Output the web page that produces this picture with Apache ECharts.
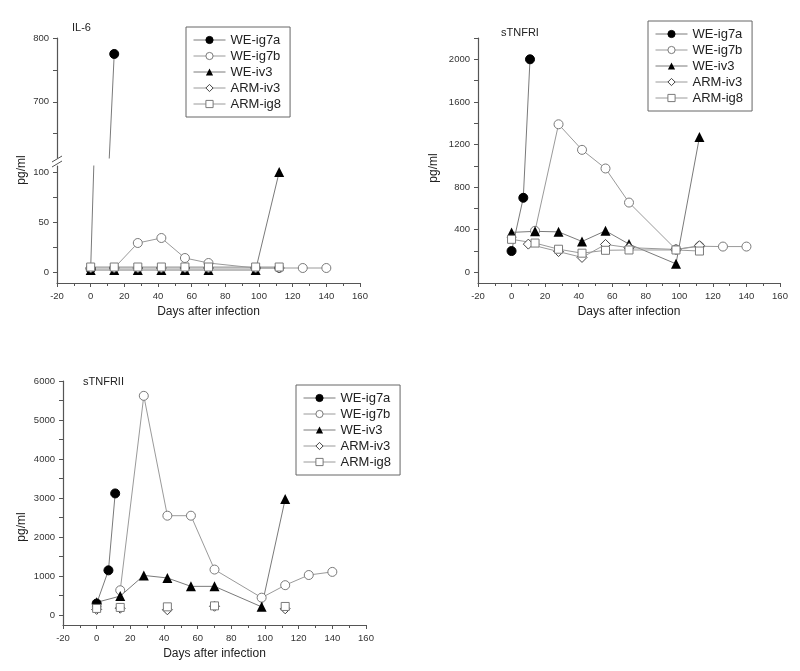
<!DOCTYPE html>
<html>
<head>
<meta charset="utf-8">
<script src="https://cdn.jsdelivr.net/npm/echarts@6/dist/echarts.min.js"></script>
<style>html,body{margin:0;padding:0;background:#fff}#c{width:800px;height:671px}</style>
</head>
<body>
<div id="c"></div>
<script>
// ---------- DATA ----------
const seriesNames = ['WE-ig7a', 'WE-ig7b', 'WE-iv3', 'ARM-iv3', 'ARM-ig8'];
const panelTitles = ['IL-6', 'sTNFRI', 'sTNFRII'];
const xTitle = 'Days after infection';
const yTitle = 'pg/ml';

// IL-6 (broken y axis)
const il6_WEig7a = [[0, 3], [14, 775]];
const il6_WEig7b = [[14, 4], [28, 29], [42, 34], [56, 14], [70, 9], [98, 4], [112, 4], [126, 4], [140, 4]];
const il6_WEiv3  = [[0, 2], [14, 2], [28, 2], [42, 2], [56, 2], [70, 2], [98, 2], [112, 100]];
const il6_ARMiv3 = [[0, 4], [14, 4], [28, 4], [42, 4], [56, 4], [70, 4], [98, 4], [112, 4]];
const il6_ARMig8 = [[0, 5], [14, 5], [28, 5], [42, 5], [56, 5], [70, 5], [98, 5], [112, 5]];

// sTNFRI
const r1_WEig7a = [[0, 200], [7, 700], [11, 2000]];
const r1_WEig7b = [[14, 390], [28, 1390], [42, 1150], [56, 975], [70, 655], [98, 215], [112, 245], [126, 242], [140, 242]];
const r1_WEiv3  = [[0, 375], [14, 385], [28, 380], [42, 290], [56, 390], [70, 265], [98, 80], [112, 1270]];
const r1_ARMiv3 = [[10, 265], [28, 195], [42, 140], [56, 262], [70, 232], [98, 215], [112, 250]];
const r1_ARMig8 = [[0, 310], [14, 275], [28, 217], [42, 180], [56, 207], [70, 210], [98, 210], [112, 200]];

// sTNFRII
const r2_WEig7a = [[0, 300], [7, 1150], [11, 3120]];
const r2_WEig7b = [[14, 640], [28, 5620], [42, 2550], [56, 2550], [70, 1170], [98, 450], [112, 770], [126, 1030], [140, 1110]];
const r2_WEiv3  = [[0, 330], [14, 490], [28, 1020], [42, 955], [56, 740], [70, 740], [98, 215], [112, 2975]];
const r2_ARMiv3 = [[0, 150], [14, 180], [42, 140], [70, 230], [112, 165]];
const r2_ARMig8 = [[0, 175], [14, 200], [42, 215], [70, 240], [112, 225]];

// axis ticks / labels
const xMin = -20, xMax = 160, xStep = 20;
const il6UpperLabels = [700, 800], il6UpperTicks = [650, 700, 750, 800];
const il6LowerLabels = [0, 50, 100], il6LowerTicks = [0, 25, 50, 75, 100];
const r1Labels = [0, 400, 800, 1200, 1600, 2000], r1Ticks = [0, 200, 400, 600, 800, 1000, 1200, 1400, 1600, 1800, 2000, 2200];
const r2Labels = [0, 1000, 2000, 3000, 4000, 5000, 6000], r2Ticks = [0, 500, 1000, 1500, 2000, 2500, 3000, 3500, 4000, 4500, 5000, 5500, 6000];

// ---------- STYLE ----------
const FONT = '"Liberation Sans", Arial, Helvetica, sans-serif';
const AX = '#555';
const styles = {
  'WE-ig7a': {symbol: 'circle', symbolSize: 9, itemStyle: {color: '#000', borderColor: '#000', borderWidth: 1}, lineStyle: {color: '#7a7a7a', width: 1}},
  'WE-ig7b': {symbol: 'circle', symbolSize: 9, itemStyle: {color: '#fff', borderColor: '#7a7a7a', borderWidth: 1}, lineStyle: {color: '#9a9a9a', width: 1}},
  'WE-iv3':  {symbol: 'triangle', symbolSize: 10, itemStyle: {color: '#000', borderColor: '#000', borderWidth: 0}, lineStyle: {color: '#7a7a7a', width: 1}},
  'ARM-iv3': {symbol: 'diamond', symbolSize: 10, itemStyle: {color: '#fff', borderColor: '#444', borderWidth: 1}, lineStyle: {color: '#9a9a9a', width: 1}},
  'ARM-ig8': {symbol: 'rect', symbolSize: 8, itemStyle: {color: '#fff', borderColor: '#7a7a7a', borderWidth: 1}, lineStyle: {color: '#9a9a9a', width: 1}}
};

function mkSeries(name, data, axisIdx, noLine) {
  const s = styles[name];
  return {
    type: 'line', name: name, data: data,
    xAxisIndex: axisIdx, yAxisIndex: axisIdx,
    symbol: s.symbol, symbolSize: s.symbolSize, showSymbol: true,
    itemStyle: s.itemStyle,
    lineStyle: noLine ? Object.assign({}, s.lineStyle, {width: 0, opacity: 0}) : s.lineStyle,
    clip: true, silent: true, animation: false,
    emphasis: {disabled: true}
  };
}

const plainNum = function (v) { return String(v); };

function xAx(gi, show, withName) {
  return {
    type: 'value', gridIndex: gi, min: xMin, max: xMax, interval: xStep, show: show,
    name: withName ? xTitle : '', nameLocation: 'middle', nameGap: 23,
    nameTextStyle: {fontSize: 12, color: '#222', fontFamily: FONT},
    axisLine: {show: true, onZero: false, lineStyle: {color: AX, width: 1.2}},
    axisTick: {show: true, length: 4, lineStyle: {color: AX}},
    minorTick: {show: true, splitNumber: 2, length: 3, lineStyle: {color: AX}},
    axisLabel: {fontSize: 9.5, color: '#333', margin: 8, fontFamily: FONT, showMinLabel: true, showMaxLabel: true, formatter: plainNum},
    splitLine: {show: false}, minorSplitLine: {show: false}
  };
}
function yAx(gi, min, max, labels, ticks) {
  return {
    type: 'value', gridIndex: gi, min: min, max: max,
    axisLine: {show: true, onZero: false, lineStyle: {color: AX, width: 1.2}},
    axisTick: {show: true, length: 4, customValues: ticks, lineStyle: {color: AX}},
    axisLabel: {fontSize: 9.5, color: '#333', margin: 8, fontFamily: FONT, customValues: labels, formatter: plainNum},
    splitLine: {show: false}
  };
}

function mkLegend(left, top) {
  return {
    orient: 'vertical', left: left, top: top,
    data: seriesNames.map(function (n) {
      return {name: n, lineStyle: {color: styles[n].lineStyle.color, width: 1, opacity: 1},
              itemStyle: Object.assign({}, styles[n].itemStyle, {borderWidth: styles[n].itemStyle.borderWidth ? 1 : 0})};
    }),
    itemWidth: 32, itemHeight: 9, itemGap: 3,
    padding: [6.5, 9, 6.5, 7],
    borderColor: '#666', borderWidth: 1, backgroundColor: '#fff',
    selectedMode: false,
    textStyle: {fontSize: 13, color: '#222', fontFamily: FONT, lineHeight: 13}
  };
}

function yName(x, y) {
  return {
    type: 'text', x: x, y: y, rotation: Math.PI / 2, silent: true,
    style: {text: yTitle, fontSize: 12, fontFamily: FONT, fill: '#222', align: 'center', verticalAlign: 'middle'}
  };
}

const series = [
  // IL-6 lower (axis 1)
  mkSeries('WE-ig7a', il6_WEig7a, 1),
  mkSeries('WE-ig7b', il6_WEig7b, 1),
  mkSeries('WE-iv3', il6_WEiv3, 1),
  mkSeries('ARM-iv3', il6_ARMiv3, 1),
  mkSeries('ARM-ig8', il6_ARMig8, 1),
  // IL-6 upper (axis 0)
  mkSeries('WE-ig7a', il6_WEig7a, 0),
  // sTNFRI (axis 2)
  mkSeries('WE-ig7a', r1_WEig7a, 2),
  mkSeries('WE-ig7b', r1_WEig7b, 2),
  mkSeries('WE-iv3', r1_WEiv3, 2),
  mkSeries('ARM-iv3', r1_ARMiv3, 2),
  mkSeries('ARM-ig8', r1_ARMig8, 2),
  // sTNFRII (axis 3)
  mkSeries('WE-ig7a', r2_WEig7a, 3),
  mkSeries('WE-ig7b', r2_WEig7b, 3),
  mkSeries('WE-iv3', r2_WEiv3, 3),
  mkSeries('ARM-iv3', r2_ARMiv3, 3, true),
  mkSeries('ARM-ig8', r2_ARMig8, 3, true)
];

const option = {
  animation: false,
  backgroundColor: '#fff',
  textStyle: {fontFamily: FONT},
  title: [
    {text: panelTitles[0], left: 72, top: 22, padding: 0, textStyle: {fontSize: 11, fontWeight: 'normal', color: '#222', fontFamily: FONT}},
    {text: panelTitles[1], left: 501, top: 27, padding: 0, textStyle: {fontSize: 11, fontWeight: 'normal', color: '#222', fontFamily: FONT}},
    {text: panelTitles[2], left: 83, top: 376, padding: 0, textStyle: {fontSize: 11, fontWeight: 'normal', color: '#222', fontFamily: FONT}}
  ],
  legend: [mkLegend(186, 27), mkLegend(648, 21), mkLegend(296, 385)],
  grid: [
    {left: 57, top: 38, width: 303, height: 120},
    {left: 57, top: 166, width: 303, height: 117},
    {left: 478, top: 38, width: 302, height: 245},
    {left: 63, top: 381, width: 303, height: 244}
  ],
  xAxis: [xAx(0, false, false), xAx(1, true, true), xAx(2, true, true), xAx(3, true, true)],
  yAxis: [
    yAx(0, 612, 800, il6UpperLabels, il6UpperTicks),
    yAx(1, -11, 106, il6LowerLabels, il6LowerTicks),
    yAx(2, -100, 2200, r1Labels, r1Ticks),
    yAx(3, -250, 6000, r2Labels, r2Ticks)
  ],
  series: series,
  graphic: [
    yName(22, 170), yName(434, 168), yName(22, 527),
    {type: 'line', silent: true, shape: {x1: 52, y1: 162, x2: 62, y2: 156}, style: {stroke: AX, lineWidth: 1}},
    {type: 'line', silent: true, shape: {x1: 52, y1: 167, x2: 62, y2: 161}, style: {stroke: AX, lineWidth: 1}}
  ]
};

const chart = echarts.init(document.getElementById('c'), null, {renderer: 'canvas'});
chart.setOption(option);
</script>
</body>
</html>
